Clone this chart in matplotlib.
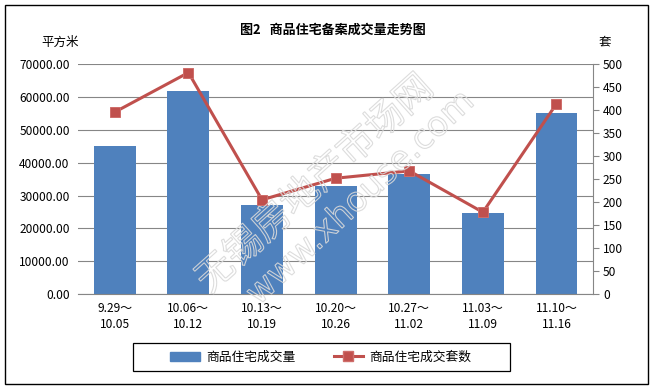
import matplotlib
matplotlib.use("Agg")
import matplotlib.pyplot as plt
from matplotlib.patches import Rectangle, PathPatch
from matplotlib.lines import Line2D
from matplotlib.textpath import TextPath
from matplotlib.font_manager import FontProperties
from matplotlib.transforms import Affine2D

plt.rcParams['font.family'] = ['Noto Sans CJK SC', 'DejaVu Sans']

weeks = ["9.29～\n10.05", "10.06～\n10.12", "10.13～\n10.19", "10.20～\n10.26",
         "10.27～\n11.02", "11.03～\n11.09", "11.10～\n11.16"]
area = [45100, 61900, 27200, 32900, 36600, 24700, 55200]   # 平方米
units = [396, 482, 205, 252, 268, 178, 414]                  # 套
left_ticks = list(range(0, 70001, 10000))
right_ticks = list(range(0, 501, 50))

W, H = 652, 388
fig = plt.figure(figsize=(W / 100, H / 100), dpi=100)
fig.patch.set_facecolor("white")

# plot area in pixels
x0, x1, ytop, ybot = 78, 593.3, 64.3, 294
ax = fig.add_axes([x0 / W, 1 - ybot / H, (x1 - x0) / W, (ybot - ytop) / H])
grey = "#868686"

xs = range(len(area))
ax.bar(xs, area, width=0.57, color="#4F81BD", zorder=2, label="商品住宅成交量")
ax.set_xlim(-0.5, len(area) - 0.5)
ax.set_ylim(0, 70000)
ax.set_yticks(left_ticks)
ax.set_yticklabels(["%.2f" % v for v in left_ticks])
ax.yaxis.grid(True, color=grey, linewidth=0.8, zorder=0)
ax.set_axisbelow(True)
ax.tick_params(axis="y", length=0, pad=6, labelsize=8.6)
ax.set_xticks(list(xs))
ax.set_xticklabels(weeks, linespacing=1.25)
ax.tick_params(axis="x", length=0, pad=6, labelsize=8.6)
for s in ["top", "left", "right"]:
    ax.spines[s].set_visible(False)
ax.spines["bottom"].set_color(grey)
ax.spines["bottom"].set_linewidth(0.8)

ax2 = ax.twinx()
ax2.plot(xs, units, color="#C0504D", linewidth=2.2, marker="s", markersize=7.3,
         markerfacecolor="#C0504D", markeredgecolor="#CF6D6A", markeredgewidth=0.7,
         zorder=3, label="商品住宅成交套数")
ax2.set_ylim(0, 500)
ax2.set_yticks(right_ticks)
ax2.tick_params(axis="y", direction="out", length=4, color=grey, pad=3, labelsize=8.6)
for s in ["top", "left", "bottom"]:
    ax2.spines[s].set_visible(False)
ax2.spines["right"].set_color(grey)
ax2.spines["right"].set_linewidth(0.8)

# titles and axis units
fig.text(333 / W, 1 - 30 / H, "图2   商品住宅备案成交量走势图", ha="center", va="center",
         fontsize=9.4, fontweight="bold")
fig.text(60 / W, 1 - 42 / H, "平方米", ha="center", va="center", fontsize=9)
fig.text(605 / W, 1 - 42 / H, "套", ha="center", va="center", fontsize=9)

# legend
handles = [Rectangle((0, 0), 1, 1, facecolor="#4F81BD", edgecolor="#4F81BD"),
           Line2D([], [], color="#C0504D", linewidth=2.2, marker="s", markersize=7.3,
                  markerfacecolor="#C0504D", markeredgecolor="#CF6D6A")]
fig.legend(handles, ["商品住宅成交量", "商品住宅成交套数"], loc="center",
           bbox_to_anchor=(321 / W, 1 - 357 / H), ncol=2, frameon=False,
           fontsize=9.2, handlelength=2.3, handletextpad=0.5, columnspacing=3.0)
fig.patches.append(Rectangle((133 / W, 1 - 371 / H), (510 - 133) / W, 28 / H,
                             transform=fig.transFigure, fill=False,
                             edgecolor="black", linewidth=0.9))

# outer frame
fig.patches.append(Rectangle((4.5 / W, 1 - 383.5 / H), 643 / W, 379 / H,
                             transform=fig.transFigure, fill=False,
                             edgecolor="black", linewidth=1.0))

# watermark (outlined text)
def watermark(text, family, size, cx, cy, angle):
    tp = TextPath((0, 0), text, size=size, prop=FontProperties(family=family))
    ext = tp.get_extents()
    tr = (Affine2D().translate(-(ext.x0 + ext.width / 2), -(ext.y0 + ext.height / 2))
          .rotate_deg(angle).translate(cx, H - cy))
    patch = PathPatch(tp, transform=tr, facecolor="none", edgecolor="#D9D9D9",
                      linewidth=0.8, alpha=0.9, zorder=5)
    fig.add_artist(patch)

watermark("无锡房地产市场网", "Noto Sans CJK SC", 38, 312, 182, 42)
watermark("www.xhouse.com", "DejaVu Sans", 34, 358, 196, 43)

fig.savefig("out.png", dpi=100)
